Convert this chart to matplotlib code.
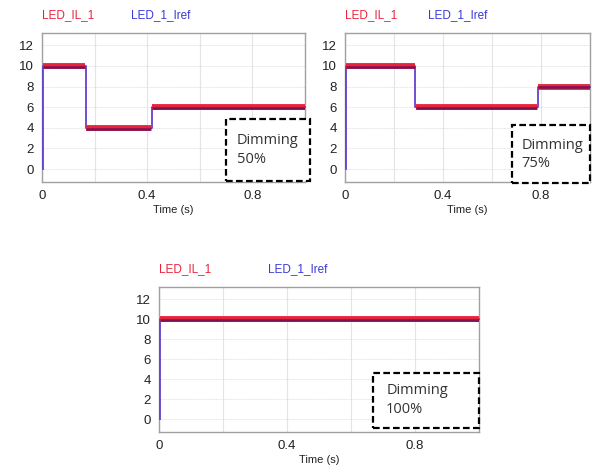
import numpy as np
import matplotlib.pyplot as plt

plt.rcParams['font.family'] = ['Liberation Sans', 'DejaVu Sans']

# switching times (s) and current levels (A) for each dimming case
t_end = 1.0
sw_50 = [0.165, 0.415]
lv_50 = [10, 4, 6]
sw_75 = [0.285, 0.785]
lv_75 = [10, 6, 8]
sw_100 = []
lv_100 = [10]

labels = ['Dimming\n50%', 'Dimming\n75%', 'Dimming\n100%']
yticks = [0, 2, 4, 6, 8, 10, 12]
xticks = [0, 0.4, 0.8]

red = '#e8243c'
blue = '#3a3ad8'


def step_xy(sw, lv):
    edges = [0] + list(sw) + [t_end]
    x = [0.0]
    y = [0.0]
    for i, v in enumerate(lv):
        x += [edges[i], edges[i + 1]]
        y += [v, v]
    return np.array(x), np.array(y)


def flat_xy(sw, lv):
    # only the steady parts, where the ripple makes the trace look thick
    edges = [0] + list(sw) + [t_end]
    x, y = [], []
    for i, v in enumerate(lv):
        x += [edges[i] + 0.003, edges[i + 1], np.nan]
        y += [v, v, np.nan]
    return np.array(x), np.array(y)


fig = plt.figure(figsize=(5.98, 4.72), dpi=100)

axes_pos = [
    [0.0702, 0.6144, 0.4398, 0.3157],
    [0.577, 0.6144, 0.4097, 0.3157],
    [0.2659, 0.0847, 0.535, 0.307],
]
boxes = [
    # x0, y0 (axes fraction), w, h
    (0.70, 0.01, 0.32, 0.41),
    (0.68, -0.01, 0.32, 0.39),
    (0.67, 0.03, 0.33, 0.38),
]
data = [(sw_50, lv_50), (sw_75, lv_75), (sw_100, lv_100)]

for pos, (sw, lv), lab, bx in zip(axes_pos, data, labels, boxes):
    ax = fig.add_axes(pos)
    x, y = step_xy(sw, lv)
    fx, fy = flat_xy(sw, lv)
    ax.plot(np.minimum(x + 0.002, t_end), y, color='#6440d0', lw=1.3, zorder=3, clip_on=False)
    ax.plot(fx, fy, color=red, lw=4.2, solid_capstyle='butt', zorder=4)
    ax.plot(fx, fy - 0.08, color='#7a1454', lw=1.8, solid_capstyle='butt', zorder=5)
    ax.set_xlim(0, 1.0)
    ax.set_ylim(-1.25, 13.2)
    ax.set_yticks(yticks)
    ax.set_xticks(xticks)
    ax.set_xticklabels(['0', '0.4', '0.8'])
    ax.set_xticks([0.2, 0.6], minor=True)
    ax.grid(True, which='major', axis='x', color='#e4e4e4', lw=0.8)
    ax.grid(True, which='minor', axis='x', color='#e4e4e4', lw=0.8)
    ax.grid(True, which='major', axis='y', color='#d8d8d8', lw=0.6, ls=(0, (1, 1)))
    ax.tick_params(length=0, labelsize=9.5, colors='#222222', pad=6)
    ax.tick_params(which='minor', length=0)
    for s in ax.spines.values():
        s.set_color('#a0a0a0')
        s.set_linewidth(1.0)
    ax.set_xlabel('Time (s)', fontsize=8, color='#222222', labelpad=2)
    ax.text(0.0, 1.08, 'LED_IL_1', color=red, fontsize=8.5, transform=ax.transAxes,
            va='bottom', ha='left')
    ax.text(0.34, 1.08, 'LED_1_Iref', color=blue, fontsize=8.5, transform=ax.transAxes,
            va='bottom', ha='left')
    rect = plt.Rectangle((bx[0], bx[1]), bx[2], bx[3], transform=ax.transAxes,
                         fill=True, facecolor='white', edgecolor='black', lw=1.6,
                         ls=(0, (3, 1.5)), clip_on=False, zorder=6)
    ax.add_patch(rect)
    ax.text(bx[0] + 0.04, bx[1] + bx[3] / 2, lab, transform=ax.transAxes,
            fontsize=10.5, color='#333333', va='center', ha='left',
            family=['Open Sans', 'DejaVu Sans'], linespacing=1.3, zorder=7)

fig.savefig('out.png', dpi=100)
